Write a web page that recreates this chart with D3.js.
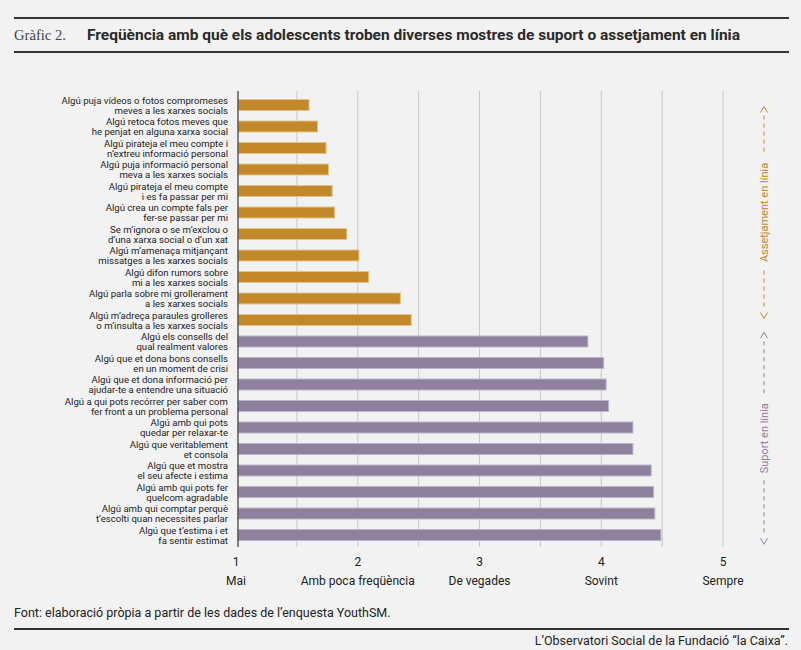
<!DOCTYPE html>
<html>
<head>
<meta charset="utf-8">
<script src="https://cdn.jsdelivr.net/npm/d3@7"></script>
<style>
  body { margin: 0; background: #f2f2f2; }
  svg { display: block; background: #f2f2f2; }
  text { font-family: Roboto, "Liberation Sans", sans-serif; fill: #222; }
</style>
</head>
<body>
<svg id="chart"></svg>
<script>
// Chart size.
const width = 801;
const height = 650;

// Row labels, top to bottom (two lines each).
const labels = [
  ["Algú puja vídeos o fotos compromeses", "meves a les xarxes socials"],
  ["Algú retoca fotos meves que", "he penjat en alguna xarxa social"],
  ["Algú pirateja el meu compte i", "n’extreu informació personal"],
  ["Algú puja informació personal", "meva a les xarxes socials"],
  ["Algú pirateja el meu compte", "i es fa passar per mi"],
  ["Algú crea un compte fals per", "fer-se passar per mi"],
  ["Se m’ignora o se m’exclou o", "d’una xarxa social o d’un xat"],
  ["Algú m’amenaça mitjançant", "missatges a les xarxes socials"],
  ["Algú difon rumors sobre", "mi a les xarxes socials"],
  ["Algú parla sobre mi grollerament", "a les xarxes socials"],
  ["Algú m’adreça paraules grolleres", "o m’insulta a les xarxes socials"],
  ["Algú els consells del", "qual realment valores"],
  ["Algú que et dona bons consells", "en un moment de crisi"],
  ["Algú que et dona informació per", "ajudar-te a entendre una situació"],
  ["Algú a qui pots recórrer per saber com", "fer front a un problema personal"],
  ["Algú amb qui pots", "quedar per relaxar-te"],
  ["Algú que veritablement", "et consola"],
  ["Algú que et mostra", "el seu afecte i estima"],
  ["Algú amb qui pots fer", "quelcom agradable"],
  ["Algú amb qui comptar perquè", "t’escolti quan necessites parlar"],
  ["Algú que t’estima i et", "fa sentir estimat"]
];

// Mean frequency (1 = Mai ... 5 = Sempre).
const values = [
  1.60, 1.67, 1.74, 1.76, 1.79, 1.81, 1.91, 2.01, 2.09, 2.35, 2.44,
  3.89, 4.02, 4.04, 4.06, 4.26, 4.26, 4.41, 4.43, 4.44, 4.49
];

// Group of each row.
const groups = [
  "assetjament", "assetjament", "assetjament", "assetjament", "assetjament",
  "assetjament", "assetjament", "assetjament", "assetjament", "assetjament",
  "assetjament",
  "suport", "suport", "suport", "suport", "suport",
  "suport", "suport", "suport", "suport", "suport"
];

const groupNames = ["assetjament", "suport"];
const groupTitles = ["Assetjament en línia", "Suport en línia"];

// Axis ticks and their text labels.
const tickValues = [1, 2, 3, 4, 5];
const tickNames = ["Mai", "Amb poca freqüència", "De vegades", "Sovint", "Sempre"];
const gridValues = [1.5, 2, 2.5, 3, 3.5, 4, 4.5, 5];

const colors = {assetjament: "#c2882a", suport: "#8e819e"};
const strokes = {assetjament: "#e3c48c", suport: "#bdb3c9"};

const data = labels.map((l, i) => ({lines: l, value: values[i], group: groups[i], i: i}));

const svg = d3.select("#chart")
  .attr("width", width)
  .attr("height", height);

function translate(x, y) {
  return "translate(" + String(x) + "," + String(y) + ")";
}

// Scales.
const xScale = d3.scaleLinear()
  .domain([1, 5])
  .range([236, 723]);

const yScale = d3.scaleBand()
  .domain(d3.range(data.length))
  .range([94.25, 545.75]);

const barHeight = 11;
const plotTop = 91;
const plotBottom = 547;

drawHeader();
drawGrid();
drawBars();
drawLabels();
drawAxis();
drawGroups();
drawFooter();

function drawHeader() {
  svg.append("line")
    .attr("x1", 14).attr("x2", 789)
    .attr("y1", 18).attr("y2", 18)
    .attr("stroke", "#333").attr("stroke-width", 2);

  svg.append("line")
    .attr("x1", 14).attr("x2", 789)
    .attr("y1", 52).attr("y2", 52)
    .attr("stroke", "#333").attr("stroke-width", 2);

  svg.append("text")
    .attr("x", 14).attr("y", 40)
    .style("font-family", "'Liberation Serif', 'DejaVu Serif', serif")
    .style("font-size", "14px")
    .style("fill", "#444")
    .attr("textLength", 52)
    .attr("lengthAdjust", "spacingAndGlyphs")
    .text("Gràfic 2.");

  svg.append("text")
    .attr("x", 87).attr("y", 40)
    .style("font-size", "14.5px")
    .style("font-weight", "700")
    .style("fill", "#2a2a2a")
    .attr("textLength", 653)
    .attr("lengthAdjust", "spacingAndGlyphs")
    .text("Freqüència amb què els adolescents troben diverses mostres de suport o assetjament en línia");
}

function drawGrid() {
  svg.append("g")
    .attr("id", "grid")
    .selectAll("line")
    .data(gridValues)
    .enter()
    .append("line")
    .attr("x1", d => xScale(d))
    .attr("x2", d => xScale(d))
    .attr("y1", plotTop)
    .attr("y2", plotBottom)
    .attr("stroke", "#c8c8c8")
    .attr("stroke-width", 1);
}

function drawBars() {
  svg.append("g")
    .attr("id", "bars")
    .selectAll("rect")
    .data(data)
    .enter()
    .append("rect")
    .attr("x", xScale(1) + 2)
    .attr("y", d => yScale(d.i) + yScale.bandwidth() / 2 - barHeight / 2)
    .attr("width", d => xScale(d.value) - xScale(1) - 2)
    .attr("height", barHeight)
    .attr("fill", d => colors[d.group])
    .attr("stroke", d => strokes[d.group])
    .attr("stroke-width", 1);
}

function drawLabels() {
  let rows = svg.append("g")
    .attr("id", "labels")
    .selectAll("text")
    .data(data)
    .enter()
    .append("text")
    .attr("text-anchor", "end")
    .style("font-size", "9.6px");

  rows.append("tspan")
    .attr("x", 228)
    .attr("y", d => yScale(d.i) + yScale.bandwidth() / 2 - 1.5)
    .text(d => d.lines[0]);

  rows.append("tspan")
    .attr("x", 228)
    .attr("y", d => yScale(d.i) + yScale.bandwidth() / 2 + 8.5)
    .text(d => d.lines[1]);
}

function drawAxis() {
  // dark baseline at value 1
  svg.append("line")
    .attr("x1", xScale(1) + 2).attr("x2", xScale(1) + 2)
    .attr("y1", plotTop).attr("y2", plotBottom)
    .attr("stroke", "#444")
    .attr("stroke-width", 1.3);

  let ticks = svg.append("g")
    .attr("id", "x-axis")
    .selectAll("g")
    .data(tickValues)
    .enter()
    .append("g")
    .attr("transform", d => translate(xScale(d), 0));

  ticks.append("text")
    .attr("y", 566)
    .attr("text-anchor", "middle")
    .style("font-size", "12px")
    .text(d => d);

  ticks.append("text")
    .attr("y", 585)
    .attr("text-anchor", "middle")
    .style("font-size", "12px")
    .text((d, i) => tickNames[i]);
}

function drawGroups() {
  groupNames.forEach((g, k) => {
    let rows = data.filter(d => d.group === g);
    let top = yScale(rows[0].i);
    let bottom = yScale(rows[rows.length - 1].i) + yScale.bandwidth();
    let mid = (top + bottom) / 2;
    let half = 106;
    let color = colors[g];
    let textHalf = g === "assetjament" ? 58 : 42;

    let grp = svg.append("g")
      .attr("class", "group-note")
      .attr("transform", translate(764, mid));

    grp.append("text")
      .attr("transform", "rotate(-90)")
      .attr("text-anchor", "middle")
      .attr("dy", "0.35em")
      .style("font-size", "11px")
      .style("fill", color)
      .text(groupTitles[k]);

    // dashed arms
    [[-half + 9, -textHalf], [textHalf, half - 9]].forEach(seg => {
      grp.append("line")
        .attr("x1", 0).attr("x2", 0)
        .attr("y1", seg[0]).attr("y2", seg[1])
        .attr("stroke", color)
        .attr("stroke-width", 1)
        .attr("stroke-dasharray", "4,4");
    });

    // chevrons
    grp.append("path")
      .attr("d", "M-3.5," + (-half + 6) + "L0," + (-half) + "L3.5," + (-half + 6))
      .attr("fill", "none")
      .attr("stroke", color)
      .attr("stroke-width", 1);

    grp.append("path")
      .attr("d", "M-3.5," + (half - 6) + "L0," + half + "L3.5," + (half - 6))
      .attr("fill", "none")
      .attr("stroke", color)
      .attr("stroke-width", 1);
  });
}

function drawFooter() {
  svg.append("text")
    .attr("x", 14).attr("y", 617)
    .style("font-size", "12.5px")
    .text("Font: elaboració pròpia a partir de les dades de l’enquesta YouthSM.");

  svg.append("line")
    .attr("x1", 14).attr("x2", 789)
    .attr("y1", 629).attr("y2", 629)
    .attr("stroke", "#333").attr("stroke-width", 2);

  svg.append("text")
    .attr("x", 788).attr("y", 645)
    .attr("text-anchor", "end")
    .style("font-size", "12.5px")
    .text("L’Observatori Social de la Fundació \u201Cla Caixa\u201D.");
}
</script>
</body>
</html>
